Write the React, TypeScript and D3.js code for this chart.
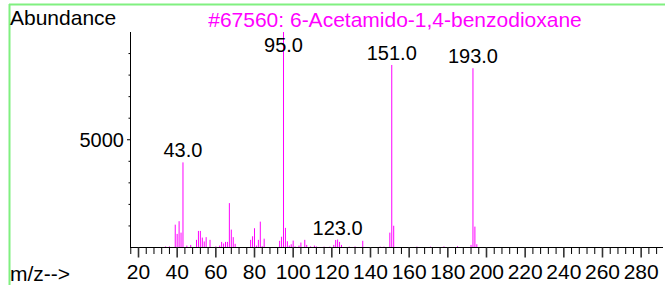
import * as d3 from 'd3';

// m/z and abundance
const mzValues = [
  34, 36, 39, 40, 41, 42, 43, 45, 47, 50, 51, 52, 53, 54, 55, 57, 60, 62, 63, 64, 65, 66, 67, 68, 69, 70,
  78, 79, 80, 81, 82, 83, 84, 85, 93, 94, 95, 96, 97, 98, 99, 100, 101, 103, 104, 106, 107, 109, 111, 112,
  116, 119, 121, 122, 123, 124, 125, 129, 132, 136, 145, 147, 150, 151, 152, 164, 171, 178, 185, 192, 193,
  194, 195,
];
const abundances = [
  50, 50, 1060, 630, 1220, 690, 3950, 90, 120, 355, 770, 770, 460, 280, 480, 355, 50, 90, 260, 185, 260, 260,
  2060, 830, 480, 170, 355, 520, 895, 90, 355, 1200, 60, 410, 310, 500, 10000, 910, 290, 90, 150, 320, 50, 90,
  230, 355, 120, 50, 90, 50, 40, 40, 120, 350, 370, 260, 120, 40, 50, 310, 40, 40, 690, 8470, 1010, 40, 40, 50,
  60, 120, 8320, 970, 150,
];
const labeledPeaks = [43, 95, 123, 151, 193];
const xTickLabels = [20, 40, 60, 80, 100, 120, 140, 160, 180, 200, 220, 240, 260, 280];
const yTickLabels = [5000];
const title = '#67560: 6-Acetamido-1,4-benzodioxane';

const W = 665;
const H = 285;
const FONT = '"Liberation Sans", Arial, sans-serif';
const MAGENTA = '#ff00ff';
const GREEN = '#80f080';

export default function App() {
  const x = d3.scaleLinear().domain([15.6, 291.3]).range([130, 663]);
  const y = d3.scaleLinear().domain([0, 10000]).range([247.5, 32]);

  const xTicks = d3.range(16, 290, 4);
  const yTicks = d3.range(1000, 10000, 1000);
  const peaks = mzValues.map((mz, i) => ({ mz, v: abundances[i] }));

  return (
    <svg width={W} height={H} style={{ position: 'absolute', left: 0, top: 0 }} fontFamily={FONT}>
      <rect width={W} height={H} fill="#fff" />
      {/* frame */}
      <line x1={9} x2={W} y1={4.5} y2={4.5} stroke={GREEN} strokeWidth={2} />
      <line x1={9.5} x2={9.5} y1={4} y2={H} stroke={GREEN} strokeWidth={2} />

      <text x={10} y={25} fontSize={21} fill="#000">Abundance</text>
      <text x={395} y={26.5} fontSize={21} fill={MAGENTA} textAnchor="middle">{title}</text>
      <text x={10} y={281} fontSize={21} fill="#000">m/z--&gt;</text>

      {/* bars */}
      {peaks.map((d) => (
        <line key={d.mz} x1={x(d.mz)} x2={x(d.mz)} y1={y(0)} y2={y(d.v)} stroke={MAGENTA} strokeWidth={1} />
      ))}

      {/* y axis */}
      <line x1={130.5} x2={130.5} y1={y(10000)} y2={y(0)} stroke="#000" strokeWidth={1} />
      {yTicks.map((t) => (
        <line key={t} x1={yTickLabels.includes(t) ? 127 : 128.5} x2={130.5} y1={y(t)} y2={y(t)} stroke="#000" />
      ))}
      {yTickLabels.map((t) => (
        <text key={t} x={124} y={y(t) + 7} fontSize={20} textAnchor="end" fill="#000">{t}</text>
      ))}

      {/* x axis */}
      <line x1={130} x2={663} y1={y(0)} y2={y(0)} stroke="#000" strokeWidth={1} />
      {xTicks.map((t) => {
        const major = t % 20 === 0;
        return (
          <line key={t} x1={x(t)} x2={x(t)} y1={y(0)} y2={y(0) + (major ? 10 : 6.5)}
            stroke={major ? '#333' : '#000'} strokeWidth={major ? 1.6 : 1} />
        );
      })}
      {xTickLabels.map((t) => (
        <text key={t} x={x(t)} y={279} fontSize={21} textAnchor="middle" fill="#000">{t}</text>
      ))}

      {/* peak labels */}
      {labeledPeaks.map((mz) => {
        const v = abundances[mzValues.indexOf(mz)];
        return (
          <text key={mz} x={x(mz)} y={Math.max(y(v) - 5, 52)} fontSize={20} textAnchor="middle" fill="#000">
            {mz.toFixed(1)}
          </text>
        );
      })}
    </svg>
  );
}
